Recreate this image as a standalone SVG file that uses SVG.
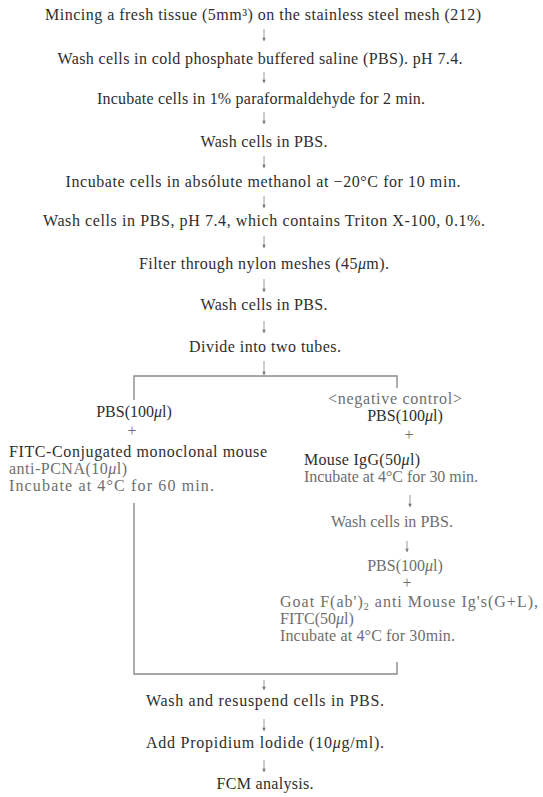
<svg xmlns="http://www.w3.org/2000/svg" width="543" height="797" viewBox="0 0 543 797">
<style>
text{font-family:"Liberation Serif","Times New Roman",serif;font-size:16px;fill:#2e2e2e}
.c{text-anchor:middle}
.f{fill:#6e6e6e}
.m{font-style:italic}
.ln{stroke:#8a8a8a;stroke-width:1.4;fill:none}
.ar{stroke:#9a9a9a;stroke-width:1;fill:none}
</style>
<defs>
<marker id="a" viewBox="0 0 6 6" refX="3" refY="5.5" markerWidth="5" markerHeight="5" orient="0" markerUnits="userSpaceOnUse">
<path d="M0.8,1.5 L3,5.5 L5.2,1.5 Z" fill="#777"/>
</marker>
</defs>
<rect width="543" height="797" fill="#fff"/>

<g id="connectors">
<line class="ar" x1="264" y1="29" x2="264" y2="41" marker-end="url(#a)"/>
<line class="ar" x1="264" y1="72" x2="264" y2="83" marker-end="url(#a)"/>
<line class="ar" x1="264" y1="112" x2="264" y2="124" marker-end="url(#a)"/>
<line class="ar" x1="264" y1="156" x2="264" y2="168" marker-end="url(#a)"/>
<line class="ar" x1="264" y1="196" x2="264" y2="208" marker-end="url(#a)"/>
<line class="ar" x1="264" y1="236" x2="264" y2="248" marker-end="url(#a)"/>
<line class="ar" x1="264" y1="279" x2="264" y2="292" marker-end="url(#a)"/>
<line class="ar" x1="264" y1="321" x2="264" y2="333" marker-end="url(#a)"/>
<line class="ar" x1="264" y1="361" x2="264" y2="375" marker-end="url(#a)"/>
<polyline class="ln" points="134,400 134,376 397,376 397,388"/>
<polyline class="ln" points="134,503 134,674 397,674 397,662"/>
<line class="ar" x1="410" y1="495" x2="410" y2="507" marker-end="url(#a)"/>
<line class="ar" x1="407" y1="541" x2="407" y2="552" marker-end="url(#a)"/>
<line class="ar" x1="264" y1="680" x2="264" y2="690" marker-end="url(#a)"/>
<line class="ar" x1="264" y1="719" x2="264" y2="731" marker-end="url(#a)"/>
<line class="ar" x1="264" y1="760" x2="264" y2="772" marker-end="url(#a)"/>
</g>

<g id="n1"><text class="c" x="263" y="20" textLength="436" lengthAdjust="spacing">Mincing a fresh tissue (5mm³) on the stainless steel mesh (212)</text></g>
<g id="n2"><text class="c" x="260" y="64" textLength="405" lengthAdjust="spacing">Wash cells in cold phosphate buffered saline (PBS). pH 7.4.</text></g>
<g id="n3"><text class="c" x="261" y="104" textLength="328" lengthAdjust="spacing">Incubate cells in 1% paraformaldehyde for 2 min.</text></g>
<g id="n4"><text class="c" x="264" y="147" textLength="127" lengthAdjust="spacing">Wash cells in PBS.</text></g>
<g id="n5"><text class="c" x="263" y="187" textLength="395" lengthAdjust="spacing">Incubate cells in absólute methanol at −20°C for 10 min.</text></g>
<g id="n6"><text class="c" x="264" y="226" textLength="442" lengthAdjust="spacing">Wash cells in PBS, pH 7.4, which contains Triton X-100, 0.1%.</text></g>
<g id="n7"><text class="c" x="264" y="269" textLength="250" lengthAdjust="spacing">Filter through nylon meshes (45<tspan class="m">μ</tspan>m).</text></g>
<g id="n8"><text class="c" x="264" y="310" textLength="127" lengthAdjust="spacing">Wash cells in PBS.</text></g>
<g id="n9"><text class="c" x="265" y="352" textLength="152" lengthAdjust="spacing">Divide into two tubes.</text></g>

<g id="left">
<text class="c" x="134" y="417">PBS(100<tspan class="m">μ</tspan>l)</text>
<text class="c f" x="132" y="436">+</text>
<text x="9" y="457" textLength="258" lengthAdjust="spacing">FITC-Conjugated monoclonal mouse</text>
<text class="f" x="9" y="474" textLength="118" lengthAdjust="spacing">anti-PCNA(10<tspan class="m">μ</tspan>l)</text>
<text class="f" x="9" y="491" textLength="205" lengthAdjust="spacing">Incubate at 4°C for 60 min.</text>
</g>

<g id="right">
<text class="c f" x="395" y="404" textLength="134" lengthAdjust="spacing">&lt;negative control&gt;</text>
<text class="c" x="405" y="421">PBS(100<tspan class="m">μ</tspan>l)</text>
<text class="c f" x="409" y="440">+</text>
<text x="304" y="465" textLength="116" lengthAdjust="spacing">Mouse IgG(50<tspan class="m">μ</tspan>l)</text>
<text class="f" x="304" y="482" textLength="174" lengthAdjust="spacing">Incubate at 4°C for 30 min.</text>
<text class="c f" x="392" y="527" textLength="122" lengthAdjust="spacing">Wash cells in PBS.</text>
<text class="c f" x="405" y="571">PBS(100<tspan class="m">μ</tspan>l)</text>
<text class="c f" x="407" y="588">+</text>
<text class="f" x="280" y="607" textLength="258" lengthAdjust="spacing">Goat F(ab')<tspan font-size="10" dy="3">2</tspan><tspan dy="-3"> anti Mouse Ig's(G+L),</tspan></text>
<text class="f" x="280" y="624">FITC(50<tspan class="m">μ</tspan>l)</text>
<text class="f" x="280" y="641" textLength="175" lengthAdjust="spacing">Incubate at 4°C for 30min.</text>
</g>

<g id="n10"><text class="c" x="265" y="706" textLength="238" lengthAdjust="spacing">Wash and resuspend cells in PBS.</text></g>
<g id="n11"><text class="c" x="265" y="748" textLength="238" lengthAdjust="spacing">Add Propidium lodide (10<tspan class="m">μ</tspan>g/ml).</text></g>
<g id="n12"><text class="c" x="265" y="789" textLength="97" lengthAdjust="spacing">FCM analysis.</text></g>
</svg>
